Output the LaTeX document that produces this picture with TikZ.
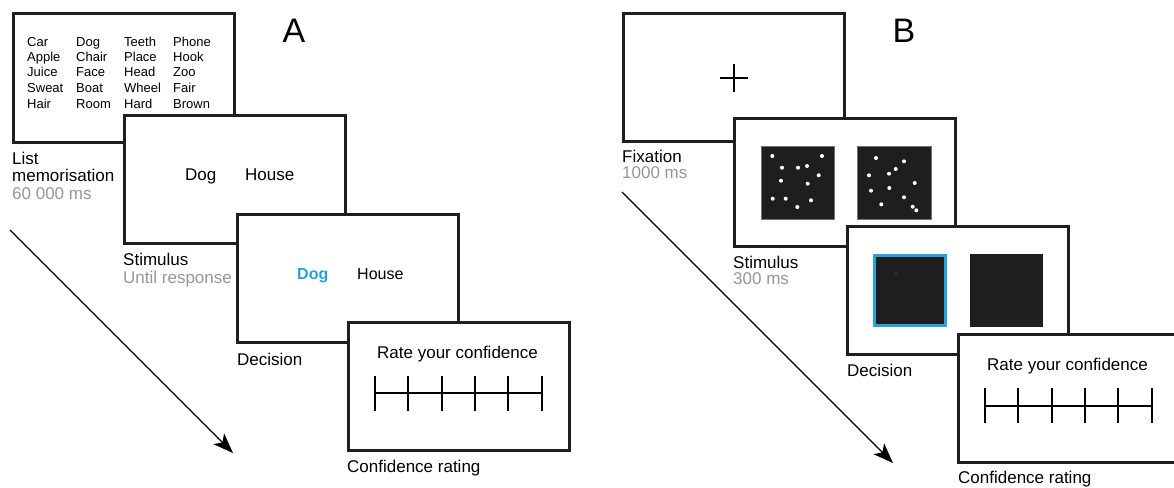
\documentclass[tikz,border=0pt]{standalone}
\usepackage{fontspec}
\setmainfont{Liberation Sans}
\usetikzlibrary{arrows.meta,positioning}
\definecolor{pickblue}{RGB}{41,161,219}
\definecolor{timegray}{RGB}{150,150,150}
\definecolor{patch}{RGB}{30,30,30}

\tikzset{
  screen/.style={draw=black!88, line width=3pt, fill=white, minimum width=221pt, minimum height=128pt, inner sep=0pt},
  lbl/.style={anchor=base west, inner sep=0pt, align=left, font=\fontsize{17}{17.5}\selectfont},
  word/.style={anchor=base west, inner sep=0pt, font=\fontsize{13}{15}\selectfont},
  panelname/.style={anchor=base, inner sep=0pt, font=\fontsize{34}{34}\selectfont},
  timeline/.style={line width=1.4pt, -{Stealth[length=20pt, width=15pt, inset=5pt]}},
}

\begin{document}
\begin{tikzpicture}[x=1pt, y=-1pt]
\useasboundingbox (0,0) rectangle (1174,487);

% ---- A: word pairs
\node[screen] (listA) at (124,78) {};
\foreach \w [count=\i] in {Car,Apple,Juice,Sweat,Hair} \node[word] (wa\i) at (27,30.5+15.5*\i) {\w};
\foreach \w [count=\i] in {Dog,Chair,Face,Boat,Room} \node[word] (wb\i) at (76,30.5+15.5*\i) {\w};
\foreach \w [count=\i] in {Teeth,Place,Head,Wheel,Hard} \node[word] (wc\i) at (124,30.5+15.5*\i) {\w};
\foreach \w [count=\i] in {Phone,Hook,Zoo,Fair,Brown} \node[word] (wd\i) at (173,30.5+15.5*\i) {\w};
% multi-line labels sit on their last baseline
\node[lbl] (listlbl) at (12,199) {List\\memorisation\\\textcolor{timegray}{60 000 ms}};

\node[screen] (stimA) at (235,179.5) {};
\node[lbl] (dogA) at (185,180) {Dog};
\node[lbl] (houseA) at (245,180) {House};
\node[lbl] (stimlblA) at (123,283) {Stimulus\\\textcolor{timegray}{Until response}};

\node[screen] (decA) at (347.5,278.5) {};
\node[lbl, font=\fontsize{16}{17}\selectfont\bfseries, text=pickblue] (dogpick) at (297,279) {Dog};
\node[lbl, font=\fontsize{16}{17}\selectfont] (housepick) at (357,279) {House};
\node[lbl] (declblA) at (237,365) {Decision};

\node[screen] (confA) at (458.5,386) {};
\node[lbl] (rateA) at (377,358) {Rate your confidence};
\draw[line width=2.6pt] (375,393) -- (542,393);
\foreach \x in {375,408,442,475,508,542} \draw[line width=1.6pt] (\x,376) -- ++(0,35);
\node[lbl] (conflblA) at (347,472) {Confidence rating};

\node[panelname] (nameA) at (294,42) {A};
\coordinate (tA0) at (10,230);
\coordinate (tA1) at (233,453);
\draw[timeline] (tA0) -- (tA1);

% ---- B: dot numerosity
\node[screen] (fixB) at (734,77.5) {};
\draw[line width=2pt] (720,78) -- (748,78) (734,64) -- (734,92);
\node[lbl, font=\fontsize{17}{15.5}\selectfont] (fixlbl) at (622,178) {Fixation\\\textcolor{timegray}{1000 ms}};

\node[screen] (stimB) at (845,182.5) {};
\fill[patch, draw=black!55, line width=0.6pt] (761,146) rectangle (834,219);
\fill[patch, draw=black!55, line width=0.6pt] (857,146) rectangle (931,219);
\foreach \p in {(772.3,156),(822,156),(782,167.7),(798,167.7),(807,166),(818.7,175.3),(781,180.7),(807.7,183.7),(772.7,198.7),(785.7,198.7),(811,200.3),(797.3,207)}
  \fill[white] \p circle (2pt);
\foreach \p in {(876,158),(904,161.3),(895.7,169),(889,173.7),(869,175.3),(914.7,183),(889.3,188),(871,190.7),(904,197.3),(881.3,204.3),(912.7,206.7),(916.3,210.3)}
  \fill[white] \p circle (2pt);
\node[lbl, font=\fontsize{17}{16}\selectfont] (stimlblB) at (733,284) {Stimulus\\\textcolor{timegray}{300 ms}};

\node[screen] (decB) at (958,290.5) {};
\fill[patch, draw=pickblue, line width=3pt] (874.5,255.5) rectangle (945.5,325.5);
\fill[black!45] (896,274) circle (0.6pt);
\fill[patch] (970,254) rectangle (1043,327);
\node[lbl] (declblB) at (847,376) {Decision};

\node[screen] (confB) at (1069,398.5) {};
\node[lbl] (rateB) at (987,370) {Rate your confidence};
\draw[line width=2.6pt] (985,406) -- (1152,406);
\foreach \x in {985,1018,1052,1085,1118,1152} \draw[line width=1.6pt] (\x,388) -- ++(0,35);
\node[lbl] (conflblB) at (958,483) {Confidence rating};

\node[panelname] (nameB) at (904,42) {B};
\coordinate (tB0) at (622,192);
\coordinate (tB1) at (893,463);
\draw[timeline] (tB0) -- (tB1);
\end{tikzpicture}
\end{document}
